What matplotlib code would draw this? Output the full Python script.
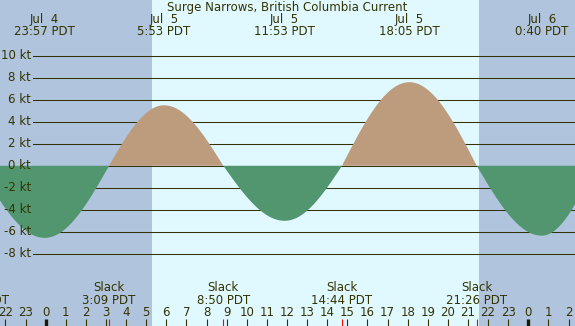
import numpy as np
import matplotlib
matplotlib.use("Agg")
import matplotlib.pyplot as plt

# times in hours from Jul 5 00:00 PDT, speeds in knots
event_hours = [-3.32, -0.05, 3.15, 5.883, 8.833, 11.883, 14.733, 18.083, 21.433, 24.667, 27.3]
event_knots = [0.0, -6.55, 0.0, 5.5, 0.0, -5.0, 0.0, 7.6, 0.0, -6.35, 0.0]

max_hours = [-0.05, 5.883, 11.883, 18.083, 24.667]
max_days = ["Jul  4", "Jul  5", "Jul  5", "Jul  5", "Jul  6"]
max_times = ["23:57 PDT", "5:53 PDT", "11:53 PDT", "18:05 PDT", "0:40 PDT"]

slack_hours = [-3.32, 3.15, 8.833, 14.733, 21.433]
slack_times = ["20:41 PDT", "3:09 PDT", "8:50 PDT", "14:44 PDT", "21:26 PDT"]

sunrise = 5.29
sunset = 21.55
grid_knots = [10, 8, 6, 4, 2, 0, -2, -4, -6, -8]
hour_ticks = list(range(-2, 27))

title = "Surge Narrows, British Columbia Current"

W, H = 575, 326
X0, XS = 45.7, 20.11     # pixel of hour 0, pixels per hour
Y0, YS = 165.8, 11.0     # pixel of 0 kt, pixels per knot

NIGHT = "#b0c4de"
DAY = "#e0f8ff"
FLOOD = "#bc9c7c"
EBB = "#52966f"
INK = "#333300"


def px(p):
    return (p - X0) / XS


def py(p):
    return (Y0 - p) / YS


# quarter-wave shape between slack and max events
t = []
v = []
for i in range(len(event_hours) - 1):
    a, b = event_hours[i], event_hours[i + 1]
    s = np.linspace(0, 1, 60)
    if event_knots[i] == 0:
        seg = event_knots[i + 1] * np.sin(np.pi / 2 * s)
    else:
        seg = event_knots[i] * np.cos(np.pi / 2 * s)
    t.extend(a + (b - a) * s)
    v.extend(seg)
t = np.array(t)
v = np.array(v)

plt.rcParams['font.family'] = ['DejaVu Sans']
fig = plt.figure(figsize=(W / 100, H / 100), dpi=100)
ax = fig.add_axes([0, 0, 1, 1])
ax.set_xlim(px(0), px(W))
ax.set_ylim(py(H), py(0))
ax.axis("off")

ax.axvspan(px(0), sunrise, color=NIGHT, lw=0, zorder=0)
ax.axvspan(sunrise, sunset, color=DAY, lw=0, zorder=0)
ax.axvspan(sunset, px(W), color=NIGHT, lw=0, zorder=0)

fs = 8.5
for k in grid_knots:
    ax.plot([px(33), px(W)], [k, k], color=INK, lw=0.75, zorder=1)
    ax.text(px(31), k, f"{k} kt", ha="right", va="center", fontsize=fs, color=INK)

ax.fill_between(t, v, 0, where=v >= 0, interpolate=True, color=FLOOD, lw=0, zorder=2)
ax.fill_between(t, v, 0, where=v <= 0, interpolate=True, color=EBB, lw=0, zorder=2)

ax.text(px(287), py(8), title, ha="center", va="center", fontsize=fs, color=INK)
for h, d, s in zip(max_hours, max_days, max_times):
    ax.text(h, py(20), d, ha="center", va="center", fontsize=fs, color=INK)
    ax.text(h, py(31.5), s, ha="center", va="center", fontsize=fs, color=INK)

for h, s in zip(slack_hours, slack_times):
    ax.text(h, py(287.5), "Slack", ha="center", va="center", fontsize=fs, color=INK)
    ax.text(h, py(300), s, ha="center", va="center", fontsize=fs, color=INK)

for h in hour_ticks:
    ax.text(h, py(312), str(h % 24), ha="center", va="center", fontsize=fs, color=INK)
    lw = 2.4 if h % 24 == 0 else 0.8
    col = "#1a1a00" if h % 24 == 0 else INK
    ax.plot([h, h], [py(319), py(H)], color=col, lw=lw, solid_capstyle="butt", clip_on=False, zorder=3)

for h in slack_hours:
    ax.plot([h, h], [py(319), py(H)], color="red", lw=0.8, solid_capstyle="butt", clip_on=False, zorder=3)

fig.savefig("out.png", dpi=100)
